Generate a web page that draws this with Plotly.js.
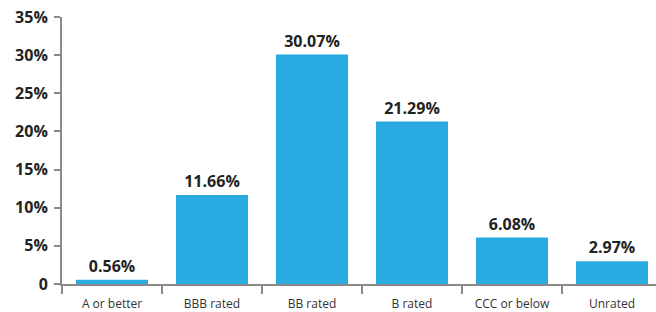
<!DOCTYPE html>
<html>
<head>
<meta charset="utf-8">
<script src="https://cdn.plot.ly/plotly-3.0.1.min.js"></script>
<style>html,body{margin:0;padding:0;background:#fff;}#chart{width:656px;height:312px;}</style>
</head>
<body>
<div id="chart"></div>
<script>
var categories = ["A or better", "BBB rated", "BB rated", "B rated", "CCC or below", "Unrated"];
var values = [0.56, 11.66, 30.07, 21.29, 6.08, 2.97];
var yTickVals = [0, 5, 10, 15, 20, 25, 30, 35];
var yTickText = ["0", "5%", "10%", "15%", "20%", "25%", "30%", "35%"];

var trace = {
  type: "bar",
  x: categories,
  y: values,
  text: values.map(function(v){ return v.toFixed(2) + "%"; }),
  textposition: "outside",
  constraintext: "none",
  cliponaxis: false,
  textfont: {family: "Open Sans", size: 16, color: "#222222", weight: "bold"},
  marker: {color: "#29ABE2"},
  width: 0.72,
  hoverinfo: "none"
};

var layout = {
  width: 656, height: 312,
  margin: {l: 62, r: 0, t: 17, b: 28},
  paper_bgcolor: "#ffffff",
  plot_bgcolor: "#ffffff",
  showlegend: false,
  xaxis: {
    type: "category",
    range: [-0.5, 5.44],
    showline: true, linecolor: "#8a8a8a", linewidth: 2,
    ticks: "outside", tickson: "boundaries", ticklen: 8, tickwidth: 2, tickcolor: "#8a8a8a",
    ticklabelstandoff: 8,
    showgrid: false, zeroline: false,
    tickfont: {family: "Open Sans", size: 12, color: "#333333"}
  },
  yaxis: {
    range: [0, 35],
    tickvals: yTickVals, ticktext: yTickText,
    showline: true, linecolor: "#8a8a8a", linewidth: 2,
    ticks: "outside", ticklen: 6, tickwidth: 2, tickcolor: "#8a8a8a",
    showgrid: false, zeroline: false,
    ticklabelstandoff: 3,
    tickfont: {family: "Open Sans", size: 16, color: "#222222", weight: "bold"}
  }
};

Plotly.newPlot("chart", [trace], layout, {displayModeBar: false, staticPlot: true});
</script>
</body>
</html>
